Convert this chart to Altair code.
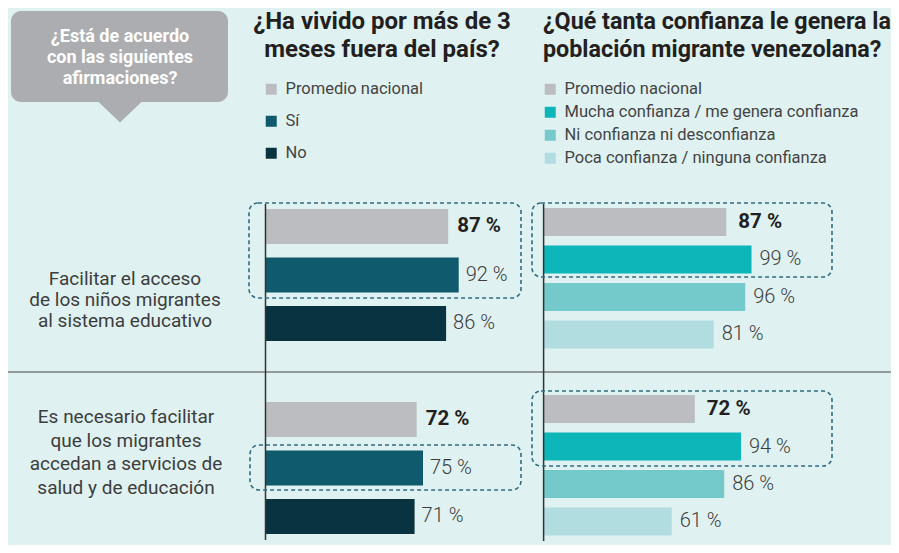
import altair as alt
import pandas as pd

# ---------------- data ----------------
statements = ["acceso_educativo", "servicios_salud_educacion"]
statement_lines_1 = ["Facilitar el acceso", "de los niños migrantes", "al sistema educativo"]
statement_lines_2 = ["Es necesario facilitar", "que los migrantes", "accedan a servicios de", "salud y de educación"]
prompt_lines = ["¿Está de acuerdo", "con las siguientes", "afirmaciones?"]
left_title = ["¿Ha vivido por más de 3", "meses fuera del país?"]
right_title = ["¿Qué tanta confianza le genera la", "población migrante venezolana?"]

left_categories = ["Promedio nacional", "Sí", "No"]
left_values_acceso = [87, 92, 86]
left_values_salud = [72, 75, 71]

right_categories = [
    "Promedio nacional",
    "Mucha confianza / me genera confianza",
    "Ni confianza ni desconfianza",
    "Poca confianza / ninguna confianza",
]
right_values_acceso = [87, 99, 96, 81]
right_values_salud = [72, 94, 86, 61]

left_colors = ["#bcbdc0", "#0f5a6d", "#0a3341"]
right_colors = ["#bcbdc0", "#0db6b9", "#74c9cb", "#b1dde0"]


def build(categories, values_by_stmt):
    rows = []
    for stmt, vals in zip(statements, values_by_stmt):
        for cat, v in zip(categories, vals):
            rows.append({"afirmacion": stmt, "grupo": cat, "valor": v, "etiqueta": f"{v} %"})
    return pd.DataFrame(rows)


left_df = build(left_categories, [left_values_acceso, left_values_salud])
right_df = build(right_categories, [right_values_acceso, right_values_salud])
one = pd.DataFrame({"k": [0]})

# ---------------- layout helpers ----------------
OFF = 8  # page margin


def px(v):
    return v - OFF


FONT = "Roboto"
BG = "#dff1f1"
DARK = "#231f20"
TXT = "#3d3d3d"
BOX = "#2f6e83"

x_left = alt.Scale(domain=[0, 100], range=[px(265.5), px(265.5) + 210])
x_right = alt.Scale(domain=[0, 100], range=[px(543.6), px(543.6) + 210])
y_left = alt.Scale(type="band", domain=statements, range=[px(202.2), px(202.2) + 338.5],
                   paddingInner=0.246, paddingOuter=0)
y_right = alt.Scale(type="band", domain=statements, range=[px(203.25), px(203.25) + 337],
                    paddingInner=0.198, paddingOuter=0)
yo_left = alt.Scale(type="band", domain=left_categories, paddingInner=0.28, paddingOuter=0.14)
yo_right = alt.Scale(type="band", domain=right_categories, paddingInner=0.253, paddingOuter=0.1267)

legend_common = dict(
    orient="none",
    title=None,
    symbolType="square",
    symbolSize=121,
    symbolStrokeWidth=0,
    labelFont=FONT,
    labelFontSize=16.5,
    labelColor="#444444",
    labelOffset=6,
    labelLimit=400,
    padding=0,
)


def bars(df, xs, ys, yos, cats, colors, legend):
    return alt.Chart(df).mark_bar().encode(
        x=alt.X("valor:Q", scale=xs, axis=None),
        y=alt.Y("afirmacion:N", scale=ys, axis=None, sort=statements),
        yOffset=alt.YOffset("grupo:N", scale=yos, sort=cats),
        color=alt.Color("grupo:N", scale=alt.Scale(domain=cats, range=colors), legend=legend),
    )


def labels(df, xs, ys, yos, cats, bold, dx):
    flt = alt.datum.grupo == "Promedio nacional"
    base = alt.Chart(df).transform_filter(flt if bold else ~flt)
    mark = base.mark_text(
        align="left",
        baseline="middle",
        dx=dx,
        font=FONT,
        fontSize=20.5 if bold else 20,
        fontWeight="bold" if bold else 300,
        color=DARK if bold else TXT,
    )
    return mark.encode(
        x=alt.X("valor:Q", scale=xs, axis=None),
        y=alt.Y("afirmacion:N", scale=ys, axis=None, sort=statements),
        yOffset=alt.YOffset("grupo:N", scale=yos, sort=cats),
        text="etiqueta:N",
    )


def text_block(lines, x, y_first, align, size, weight, color, line_height):
    # y_first: centre of the first line (page coordinates)
    return alt.Chart(one).mark_text(
        text=lines,
        align=align,
        baseline="middle",
        font=FONT,
        fontSize=size,
        fontWeight=weight,
        color=color,
        lineHeight=line_height,
    ).encode(x=alt.value(px(x)), y=alt.value(px(y_first)))


def dashed_box(x0, x1, y0, y1):
    return alt.Chart(one).mark_rect(
        fillOpacity=0, stroke=BOX, strokeWidth=1.6, strokeDash=[4, 3], cornerRadius=9
    ).encode(x=alt.value(px(x0)), x2=alt.value(px(x1)), y=alt.value(px(y0)), y2=alt.value(px(y1)))


# callout bubble
bubble = alt.Chart(one).mark_rect(color="#acadb0", cornerRadius=10).encode(
    x=alt.value(px(11)), x2=alt.value(px(228)), y=alt.value(px(11)), y2=alt.value(px(102))
)
pointer = alt.Chart(one).mark_point(
    shape="M-1,-0.5L1,-0.5L0,0.46Z", filled=True, color="#acadb0", size=46 * 46, opacity=1
).encode(x=alt.value(px(120)), y=alt.value(px(101 + 11)))
prompt = text_block(prompt_lines, 120, 37, "center", 18, "bold", "#ffffff", 21)

# titles
title_l = text_block(left_title, 382, 22, "center", 24, "bold", DARK, 28)
title_r = text_block(right_title, 543, 22, "left", 23.3, "bold", DARK, 28)

# statement labels
stmt1 = text_block(statement_lines_1, 125, 279, "center", 19, "normal", TXT, 21)
stmt2 = text_block(statement_lines_2, 126, 417, "center", 19, "normal", TXT, 23.6)

# separator
separator = alt.Chart(one).mark_rule(color="#7a7a7a", strokeWidth=1.5).encode(
    x=alt.value(0), x2=alt.value(883), y=alt.value(px(372))
)

# axis lines
axis_l = alt.Chart(one).mark_rule(color="#333333", strokeWidth=1.5).encode(
    x=alt.XDatum(0, scale=x_left, axis=None), y=alt.value(px(204)), y2=alt.value(px(540))
)
axis_r = alt.Chart(one).mark_rule(color="#333333", strokeWidth=1.5).encode(
    x=alt.XDatum(0, scale=x_right, axis=None), y=alt.value(px(204)), y2=alt.value(px(541))
)

bars_l = bars(left_df, x_left, y_left, yo_left, left_categories, left_colors,
              alt.Legend(legendX=255, legendY=73, rowPadding=15, **legend_common))
bars_r = bars(right_df, x_right, y_right, yo_right, right_categories, right_colors,
              alt.Legend(legendX=534, legendY=73, rowPadding=6, **legend_common))

lab_l_b = labels(left_df, x_left, y_left, yo_left, left_categories, True, 9)
lab_l_n = labels(left_df, x_left, y_left, yo_left, left_categories, False, 7)
lab_r_b = labels(right_df, x_right, y_right, yo_right, right_categories, True, 12)
lab_r_n = labels(right_df, x_right, y_right, yo_right, right_categories, False, 8)

boxes = [
    dashed_box(249, 521, 203, 298),
    dashed_box(250, 521, 445, 490),
    dashed_box(532, 832, 203, 277),
    dashed_box(532, 832, 391, 466),
]

chart = alt.layer(
    bubble, pointer, prompt, title_l, title_r, stmt1, stmt2, separator,
    bars_l, bars_r, axis_l, axis_r, lab_l_b, lab_l_n, lab_r_b, lab_r_n, *boxes
).resolve_scale(
    x="independent", y="independent", yOffset="independent", color="independent"
).properties(
    width=883, height=537, padding=0, background=BG,
    autosize=alt.AutoSizeParams(type="none"),
).configure_view(strokeWidth=0)

chart.save("out.html", embed_options={"renderer": "svg", "actions": False})
